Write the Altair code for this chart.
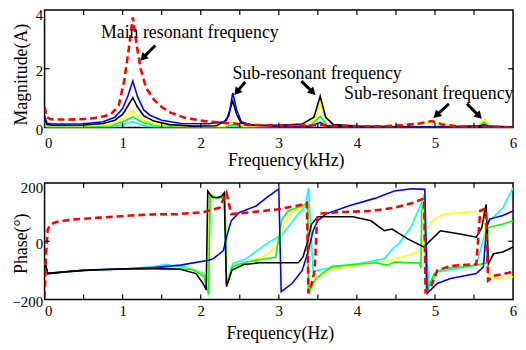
import math
import altair as alt
import pandas as pd

FONT = "Liberation Serif"

# ---------------- magnitude panel (top) ----------------
MAG_RED_X = [0.0, 0.03, 0.08, 0.3, 0.5, 0.7, 0.85, 0.95, 1.02, 1.08, 1.13, 1.18, 1.23, 1.3, 1.4, 1.5, 1.62, 1.8, 2.05, 2.3,
             2.43, 2.55, 2.8, 3.2, 3.45, 3.53, 3.62, 3.9, 4.3, 4.6, 4.8, 4.96, 5.1, 5.3, 5.5, 5.7, 6.0]
MAG_RED_Y = [0.7, 0.35, 0.28, 0.27, 0.29, 0.34, 0.45, 0.75, 1.6, 2.7, 3.75, 2.8, 2.0, 1.35, 0.95, 0.7, 0.5, 0.33, 0.22, 0.16,
             0.14, 0.1, 0.08, 0.07, 0.08, 0.1, 0.06, 0.05, 0.04, 0.08, 0.14, 0.22, 0.1, 0.04, 0.02, 0.03, 0.0]

MAG_BLUE_X = [0.0, 0.03, 0.1, 0.5, 0.75, 0.9, 1.0, 1.07, 1.13, 1.19, 1.27, 1.35, 1.5, 1.75, 2.1, 2.3, 2.36, 2.41, 2.46, 2.52,
              2.65, 3.0, 3.4, 3.53, 3.62, 4.0, 5.0, 5.55, 5.63, 5.7, 6.0]
MAG_BLUE_Y = [0.4, 0.15, 0.12, 0.13, 0.2, 0.35, 0.65, 1.1, 1.58, 1.05, 0.6, 0.42, 0.25, 0.14, 0.13, 0.2, 0.4, 1.18, 0.6, 0.2,
              0.08, 0.04, 0.05, 0.17, 0.05, 0.02, 0.02, 0.04, 0.1, 0.03, 0.02]

MAG_BLACK_X = [0.0, 0.03, 0.1, 0.5, 0.75, 0.9, 1.0, 1.07, 1.13, 1.19, 1.27, 1.4, 1.6, 1.9, 2.2, 2.33, 2.41, 2.46, 2.52, 2.7,
               3.0, 3.3, 3.45, 3.53, 3.6, 3.7, 4.0, 4.5, 5.0, 5.6, 6.0]
MAG_BLACK_Y = [0.3, 0.1, 0.08, 0.09, 0.14, 0.25, 0.45, 0.75, 1.02, 0.7, 0.4, 0.22, 0.1, 0.05, 0.06, 0.25, 0.9, 0.45, 0.15, 0.08,
               0.08, 0.12, 0.35, 1.07, 0.35, 0.1, 0.05, 0.03, 0.02, 0.05, 0.02]

MAG_YELLOW_X = [0.0, 0.03, 0.5, 0.85, 1.0, 1.13, 1.25, 1.4, 1.8, 2.3, 2.43, 2.55, 3.0, 3.4, 3.48, 3.53, 3.58, 3.7, 4.2, 4.6,
                4.8, 4.96, 5.1, 5.3, 5.55, 5.63, 5.7, 6.0]
MAG_YELLOW_Y = [0.2, 0.06, 0.06, 0.1, 0.3, 0.56, 0.28, 0.12, 0.04, 0.05, 0.2, 0.05, 0.05, 0.12, 0.4, 0.9, 0.4, 0.08, 0.06, 0.08,
                0.14, 0.22, 0.12, 0.06, 0.08, 0.3, 0.06, 0.03]

MAG_GREEN_X = [0.0, 0.03, 0.5, 0.85, 1.0, 1.13, 1.25, 1.45, 2.0, 2.3, 2.43, 2.55, 3.4, 3.53, 3.62, 4.5, 5.55, 5.63, 5.7, 6.0]
MAG_GREEN_Y = [0.1, 0.03, 0.03, 0.06, 0.2, 0.36, 0.18, 0.06, 0.02, 0.03, 0.1, 0.03, 0.06, 0.38, 0.08, 0.02, 0.05, 0.18, 0.03, 0.02]

MAG_CYAN_X = [0.0, 0.03, 0.85, 1.0, 1.13, 1.25, 1.45, 2.3, 2.43, 2.55, 3.45, 3.53, 3.62, 5.55, 5.63, 5.7, 6.0]
MAG_CYAN_Y = [0.05, 0.01, 0.02, 0.1, 0.2, 0.08, 0.02, 0.01, 0.05, 0.01, 0.04, 0.2, 0.04, 0.02, 0.1, 0.02, 0.01]

# ---------------- phase panel (bottom) ----------------
PH_RED_X = [0.0, 0.02, 0.04, 0.08, 0.15, 0.3, 0.7, 1.1, 1.35, 1.7, 2.04, 2.24, 2.33, 2.39, 2.7, 3.0, 3.29, 3.36, 3.38, 3.42,
            3.46, 3.49, 3.53, 3.8, 4.2, 4.48, 4.7, 4.86, 4.88, 4.95, 5.03, 5.2, 5.53, 5.58, 5.65, 5.68, 5.75, 6.0]
PH_RED_Y = [-195, -40, 40, 58, 66, 73, 81, 88, 92, 93, 100, 115, 166, 93, 101, 110, 125, 132, -179, -145,
            -99, 81, 95, 100, 104, 115, 130, 147, -173, -156, -100, -85, -78, 105, 112, -135, -119, -105]

PH_BLUE_X = [0.0, 0.04, 0.35, 0.7, 1.3, 1.74, 2.1, 2.16, 2.29, 2.33, 2.39, 2.49, 2.71, 2.84, 3.0, 3.03, 3.17, 3.3, 3.38, 3.44,
             3.5, 3.6, 3.9, 4.23, 4.48, 4.7, 4.87, 4.9, 5.03, 5.2, 5.53, 5.62, 5.66, 5.7, 5.87, 6.0]
PH_BLUE_Y = [-65, -112, -102, -97, -93, -82, -65, -60, -32, 14, 70, 98, 121, 149, 180, -173, -145, -100, -31, 37,
             71, 93, 122, 147, 172, 180, 178, -179, -145, -128, -111, -88, 47, 76, 88, 104]

PH_BLACK_X = [0.0, 0.04, 0.5, 1.0, 1.3, 1.74, 1.94, 2.03, 2.07, 2.09, 2.15, 2.22, 2.27, 2.3, 2.33, 2.4, 2.55, 2.75, 3.25, 3.31,
              3.36, 3.42, 3.5, 3.95, 4.18, 4.35, 4.45, 4.65, 4.86, 4.94, 5.07, 5.32, 5.53, 5.6, 5.655, 5.685, 5.75, 5.87, 6.0]
PH_BLACK_Y = [-70, -110, -100, -95, -93, -96, -111, -145, -167, 172, 150, 150, 155, 166, -156, -99, -80, -74, -74, -54,
              -9, 59, 84, 84, 70, 36, 42, 8, -20, 2, 36, 25, 14, 47, 126, -77, -43, -37, -20]

PH_YELLOW_X = [0.0, 0.04, 0.5, 1.0, 1.5, 1.9, 2.04, 2.1, 2.11, 2.2, 2.28, 2.31, 2.33, 2.41, 2.71, 2.84, 2.96, 3.0, 3.06, 3.15,
               3.25, 3.34, 3.37, 3.38, 3.47, 3.59, 4.01, 4.43, 4.73, 4.81, 4.9, 4.99, 5.11, 5.49, 5.62, 5.69, 5.78, 6.0]
PH_YELLOW_Y = [-70, -110, -100, -95, -92, -97, -115, -150, 165, 150, 150, 160, -145, -88, -60, -48, -20, -10, 54, 93,
               110, 125, 128, -179, -128, -99, -82, -65, -43, -32, 47, 76, 93, 101, 101, -116, -128, -122]

PH_GREEN_X = [0.0, 0.04, 0.5, 1.0, 1.5, 1.9, 2.04, 2.1, 2.12, 2.2, 2.28, 2.31, 2.33, 2.41, 2.6, 2.84, 2.96, 3.0, 3.04, 3.12,
              3.34, 3.37, 3.38, 3.47, 3.68, 4.23, 4.39, 4.48, 4.8, 4.82, 4.83, 4.86, 4.89, 4.99, 5.11, 5.53, 5.66, 5.68, 5.87, 6.0]
PH_GREEN_Y = [-70, -110, -100, -95, -93, -97, -120, -183, 160, 148, 150, 158, -150, -85, -70, -60, -55, 14, 76, 104,
              126, 128, -179, -130, -86, -74, -82, -71, -75, -92, 105, 140, -173, -111, -94, -82, -75, 47, 59, 70]

PH_CYAN_X = [0.0, 0.04, 0.5, 1.0, 1.4, 1.55, 1.8, 2.04, 2.1, 2.12, 2.2, 2.28, 2.31, 2.33, 2.41, 2.58, 2.84, 3.05, 3.25, 3.34,
             3.38, 3.44, 3.5, 4.01, 4.35, 4.48, 4.52, 4.69, 4.82, 4.86, 4.92, 5.03, 5.53, 5.66, 5.7, 5.87, 6.0]
PH_CYAN_Y = [-70, -110, -100, -95, -87, -80, -88, -110, -140, 160, 148, 150, 160, -145, -77, -60, -9, 25, 93, 119,
             183, -105, -99, -77, -60, -20, -14, 47, 126, 160, -156, -105, -82, 47, 70, 115, 183]

# ---------------- annotations (top panel, data coordinates) ----------------
ANNOT_TEXT = ["Main resonant frequency", "Sub-resonant frequency", "Sub-resonant frequency"]
ANNOT_X = [1.86, 3.49, 4.92]
ANNOT_Y = [3.03, 1.65, 0.97]

ARROW_TAIL_X = [1.418, 2.57, 3.29, 5.18, 5.41]
ARROW_TAIL_Y = [2.79, 1.55, 1.58, 0.81, 0.81]
ARROW_TIP_X = [1.215, 2.42, 3.48, 4.97, 5.61]
ARROW_TIP_Y = [2.25, 1.08, 1.08, 0.30, 0.27]

# ---------------- axes ----------------
X_LABELS = [0, 1, 2, 3, 4, 5, 6]
X_TICKS = [0.5, 1, 1.5, 2, 2.5, 3, 3.5, 4, 4.5, 5, 5.5]
MAG_LABELS = [0, 2, 4]
MAG_TICKS = [2]
PH_LABELS = [-200, 0, 200]
PH_TICKS = [0]

X_DOMAIN = [0, 6]
MAG_DOMAIN = [0, 4]
PH_DOMAIN = [-200, 200]

W = 474
H1 = 119
H2 = 118

MAG_SERIES = [
    (MAG_CYAN_X, MAG_CYAN_Y, "#00ffff", False),
    (MAG_GREEN_X, MAG_GREEN_Y, "#00ff00", False),
    (MAG_YELLOW_X, MAG_YELLOW_Y, "#ffff00", False),
    (MAG_BLACK_X, MAG_BLACK_Y, "#000000", False),
    (MAG_BLUE_X, MAG_BLUE_Y, "#0000ff", False),
    (MAG_RED_X, MAG_RED_Y, "#ff0000", True),
]
PH_SERIES = [
    (PH_CYAN_X, PH_CYAN_Y, "#00ffff", False),
    (PH_YELLOW_X, PH_YELLOW_Y, "#ffff00", False),
    (PH_GREEN_X, PH_GREEN_Y, "#00ff00", False),
    (PH_BLUE_X, PH_BLUE_Y, "#0000ff", False),
    (PH_BLACK_X, PH_BLACK_Y, "#000000", False),
    (PH_RED_X, PH_RED_Y, "#ff0000", True),
]

ZERO_LEFT = {"condition": {"test": "datum.value === 0", "value": "left"}, "value": "center"}


def x_axis(title, label_pad, title_x, title_y):
    return alt.Axis(values=X_LABELS, title=title, labelFont=FONT, labelFontSize=15, labelColor="black",
                    labelPadding=label_pad, labelBaseline="alphabetic", labelFlush=False, labelAlign=ZERO_LEFT,
                    ticks=False, tickSize=0, domain=False, grid=False,
                    titleFont=FONT, titleFontSize=18, titleFontWeight="normal", titleColor="black",
                    titleX=title_x, titleY=title_y, titleAlign="center", titleBaseline="alphabetic")


def y_axis(title, values, title_y):
    top_offset = {"condition": {"test": f"datum.value === {values[-1]}", "value": 5}, "value": 2}
    return alt.Axis(values=values, title=title, labelFont=FONT, labelFontSize=15, labelColor="black",
                    labelPadding=2, labelOffset=top_offset, ticks=False, tickSize=0, domain=False, grid=False,
                    titleFont=FONT, titleFontSize=18, titleFontWeight="normal", titleColor="black",
                    titleX=-18, titleY=title_y, titleAngle=270, titleAlign="center", titleBaseline="alphabetic")


def panel(series, ydom, height, xaxis, yaxis, yticks, extra=None):
    xs = alt.Scale(domain=X_DOMAIN, nice=False, zero=False)
    ys = alt.Scale(domain=ydom, nice=False, zero=False)
    X = lambda f="x": alt.X(f"{f}:Q", scale=xs, axis=xaxis, title=xaxis.title)
    Y = lambda f="y": alt.Y(f"{f}:Q", scale=ys, axis=yaxis, title=yaxis.title)
    layers = []
    for sx, sy, color, dashed in series:
        assert len(sx) == len(sy)
        df = pd.DataFrame({"x": sx, "y": sy})
        kw = dict(color=color, clip=True, strokeWidth=2.6 if dashed else 1.6)
        if dashed:
            kw["strokeDash"] = [7, 4]
        layers.append(alt.Chart(df).mark_line(**kw).encode(x=X(), y=Y()))
    if extra:
        layers.extend(extra(X, Y))
    xt = pd.DataFrame({"x": X_TICKS})
    yt = pd.DataFrame({"y": yticks})
    tick_style = dict(color="black", strokeWidth=1.2)
    layers.append(alt.Chart(xt).mark_rule(**tick_style).encode(x=X(), y=alt.value(0), y2=alt.value(5)))
    layers.append(alt.Chart(xt).mark_rule(**tick_style).encode(x=X(), y=alt.value(height), y2=alt.value(height - 5)))
    layers.append(alt.Chart(yt).mark_rule(**tick_style).encode(y=Y(), x=alt.value(0), x2=alt.value(5)))
    layers.append(alt.Chart(yt).mark_rule(**tick_style).encode(y=Y(), x=alt.value(W), x2=alt.value(W - 5)))
    return alt.layer(*layers).properties(width=W, height=height)


def annotations(X, Y):
    tdf = pd.DataFrame({"x": ANNOT_X, "y": ANNOT_Y, "t": ANNOT_TEXT})
    text = alt.Chart(tdf).mark_text(font=FONT, fontSize=18, align="center", baseline="alphabetic",
                                    color="black").encode(x=X(), y=Y(), text="t:N")
    ppx = W / (X_DOMAIN[1] - X_DOMAIN[0])
    ppy = H1 / (MAG_DOMAIN[1] - MAG_DOMAIN[0])
    rows = []
    for tx, ty, hx, hy in zip(ARROW_TAIL_X, ARROW_TAIL_Y, ARROW_TIP_X, ARROW_TIP_Y):
        dxp = (hx - tx) * ppx
        dyp = -(hy - ty) * ppy
        length = math.hypot(dxp, dyp)
        ang = math.degrees(math.atan2(dxp, -dyp)) % 360
        f = 5.0 / length
        rows.append({"x": tx, "y": ty, "cx": hx - (hx - tx) * f, "cy": hy - (hy - ty) * f, "ang": ang})
    adf = pd.DataFrame(rows)
    shaft = alt.Chart(adf).mark_rule(color="black", strokeWidth=3).encode(
        x=X(), y=Y(), x2="cx:Q", y2="cy:Q")
    head = alt.Chart(adf).mark_point(
        shape="triangle-up", filled=True, size=80, color="black", opacity=1).encode(
        x=X("cx"), y=Y("cy"), angle=alt.Angle("ang:Q", scale=None))
    return [text, shaft, head]


top = panel(MAG_SERIES, MAG_DOMAIN, H1,
            x_axis("Frequency(kHz)", 20, 244, 38),
            y_axis("Magnitude(A)", MAG_LABELS, 65),
            MAG_TICKS, extra=annotations)
bottom = panel(PH_SERIES, PH_DOMAIN, H2,
               x_axis("Frequency(Hz)", 16, 238, 39),
               y_axis("Phase(°)", PH_LABELS, 61),
               PH_TICKS)

chart = alt.vconcat(top, bottom, spacing=56, bounds="flush").configure_view(
    stroke="black", strokeWidth=1.5
).properties(padding={"left": 3, "top": -3, "right": 0, "bottom": 0}, background="white")

chart.save("out.html", embed_options={"renderer": "svg", "actions": False})
